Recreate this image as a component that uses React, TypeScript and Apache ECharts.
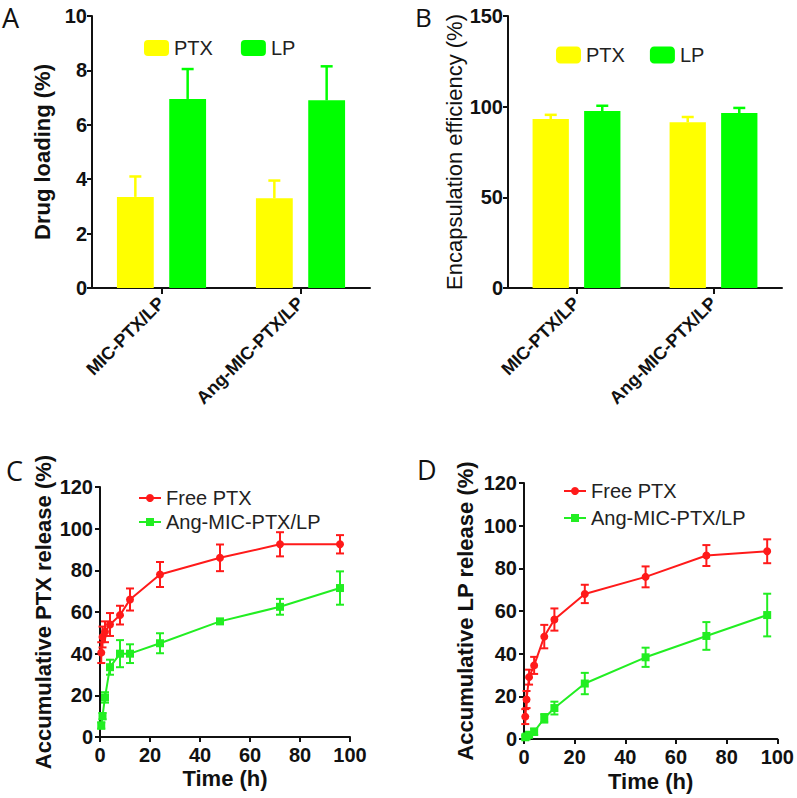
import React, { useEffect, useRef } from "react";
import * as echarts from "echarts";

const categories = ["MIC-PTX/LP", "Ang-MIC-PTX/LP"];
const loadingPTX = [3.35, 3.3];
const loadingPTXErr = [0.75, 0.65];
const loadingLP = [6.95, 6.9];
const loadingLPErr = [1.1, 1.25];
const eePTX = [93.2, 91.4];
const eePTXErr = [2.3, 2.9];
const eeLP = [97.6, 96.5];
const eeLPErr = [2.9, 2.8];

const timePoints = [0.5, 1, 2, 4, 8, 12, 24, 48, 72, 96];
const cFree = [40.5, 48, 50.5, 54, 58.5, 66, 78, 86, 92.5, 92.5];
const cFreeErr = [5, 5, 5, 5.5, 4.5, 5.3, 6, 6.4, 5.8, 4.4];
const cAng = [5.5, 10, 19, 33.5, 40, 40, 45, 55.5, 62.5, 71.5];
const cAngErr = [1.5, 1.5, 2.5, 3.6, 6.5, 4.5, 4.8, 1, 3.8, 8];
const dFree = [10.5, 18.5, 29, 34.5, 48, 56, 68, 76, 86, 88];
const dFreeErr = [3.5, 4, 3.5, 4, 5.5, 5.2, 4.3, 4.9, 4.9, 5.6];
const dAng = [0.8, 1.2, 2, 3.4, 9.7, 14.5, 26, 38.3, 48.3, 58.1];
const dAngErr = [0.8, 1, 1.2, 1.5, 2, 3, 5, 4.5, 6.5, 10];

const YELLOW = "#ffff00";
const GREEN = "#00ff00";
const RED = "#ff1a1a";
const LGREEN = "#22ee22";
const FONT = '"Liberation Sans", Arial, sans-serif';
const LETTER_FONT = '"Open Sans", sans-serif';

function barErr(sign: number, color: string) {
  return (params: any, api: any) => {
    const i = api.value(0);
    const m = api.value(1);
    const u = api.value(2);
    const band = api.size([1, 0])[0];
    const bw = band * 0.265;
    const off = (sign * (bw * 1.42)) / 2;
    const p0 = api.coord([i, m]);
    const p1 = api.coord([i, u]);
    const x = p0[0] + off;
    return {
      type: "group",
      children: [
        { type: "line", shape: { x1: x, y1: p0[1], x2: x, y2: p1[1] }, style: { stroke: color, lineWidth: 2.5 } },
        { type: "line", shape: { x1: x - 6, y1: p1[1], x2: x + 6, y2: p1[1] }, style: { stroke: color, lineWidth: 2.5 } },
      ],
    };
  };
}

function lineErr(color: string) {
  return (params: any, api: any) => {
    const x = api.value(0);
    const lo = api.value(1);
    const hi = api.value(2);
    const p0 = api.coord([x, lo]);
    const p1 = api.coord([x, hi]);
    return {
      type: "group",
      children: [
        { type: "line", shape: { x1: p0[0], y1: p0[1], x2: p1[0], y2: p1[1] }, style: { stroke: color, lineWidth: 2 } },
        { type: "line", shape: { x1: p0[0] - 4, y1: p0[1], x2: p0[0] + 4, y2: p0[1] }, style: { stroke: color, lineWidth: 2 } },
        { type: "line", shape: { x1: p1[0] - 4, y1: p1[1], x2: p1[0] + 4, y2: p1[1] }, style: { stroke: color, lineWidth: 2 } },
      ],
    };
  };
}

const axisLine = { show: true, lineStyle: { color: "#111", width: 2 } };
const axisTick = { show: true, length: 5, lineStyle: { color: "#111", width: 2 } };

export default function App() {
  const ref = useRef<HTMLDivElement>(null);
  useEffect(() => {
    if (!ref.current) return;
    const chart = echarts.init(ref.current, null, { renderer: "svg" });
    const barCatAxis = (gridIndex: number) => ({
      type: "category",
      gridIndex,
      data: categories,
      axisLine,
      axisTick: { ...axisTick, alignWithLabel: true, length: 6 },
      axisLabel: { rotate: 45, fontSize: 18, fontWeight: "bold", color: "#111", fontFamily: FONT, margin: 12 },
    });
    const timeAxis = (gridIndex: number) => ({
      type: "value",
      gridIndex,
      min: 0,
      max: 100,
      interval: 20,
      name: "Time (h)",
      nameLocation: "middle",
      nameGap: 30,
      nameTextStyle: { fontSize: 22, fontWeight: "bold", color: "#111", fontFamily: FONT },
      axisLine,
      axisTick,
      splitLine: { show: false },
      axisLabel: { fontSize: 20, fontWeight: "bold", color: "#111", fontFamily: FONT, margin: 8 },
    });
    const option: any = {
      animation: false,
      backgroundColor: "#fff",
      grid: [
        { left: 92, top: 16, width: 278, height: 272 },
        { left: 508, top: 16, width: 274, height: 272 },
        { left: 100, top: 487, width: 250, height: 250 },
        { left: 524, top: 483, width: 255, height: 256 },
      ],
      legend: [
        {
          data: ["PTX", "LP"], left: 139, top: 33, itemWidth: 25, itemHeight: 16, itemGap: 28,
          textStyle: { fontSize: 20, color: "#222", fontFamily: FONT }, selectedMode: false,
        },
        {
          data: ["PTX", "LP"], left: 551, top: 40, itemWidth: 25, itemHeight: 17, itemGap: 25,
          textStyle: { fontSize: 20, color: "#222", fontFamily: FONT }, selectedMode: false,
        },
        {
          data: ["Free PTX", "Ang-MIC-PTX/LP"], left: 133, top: 483, orient: "vertical", itemWidth: 22, itemHeight: 10, itemGap: 4,
          textStyle: { fontSize: 20, color: "#222", fontFamily: FONT }, selectedMode: false,
        },
        {
          data: ["Free PTX", "Ang-MIC-PTX/LP"], left: 558, top: 476, orient: "vertical", itemWidth: 22, itemHeight: 10, itemGap: 7,
          textStyle: { fontSize: 20, color: "#222", fontFamily: FONT }, selectedMode: false,
        },
      ],
      xAxis: [barCatAxis(0), barCatAxis(1), timeAxis(2), { ...timeAxis(3), nameGap: 31 }],
      yAxis: [
        {
          type: "value", gridIndex: 0, min: 0, max: 10, interval: 2,
          name: "Drug loading (%)", nameLocation: "middle", nameGap: 39,
          nameTextStyle: { fontSize: 22, fontWeight: "bold", color: "#111", fontFamily: FONT },
          axisLine, axisTick, splitLine: { show: false },
          axisLabel: { fontSize: 20, fontWeight: "bold", color: "#111", fontFamily: FONT, margin: 5 },
        },
        {
          type: "value", gridIndex: 1, min: 0, max: 150, interval: 50,
          name: "Encapsulation efficiency (%)", nameLocation: "middle", nameGap: 42,
          nameTextStyle: { fontSize: 22, color: "#111", fontFamily: FONT },
          axisLine, axisTick, splitLine: { show: false },
          axisLabel: { fontSize: 20, fontWeight: "bold", color: "#111", fontFamily: FONT, margin: 5 },
        },
        {
          type: "value", gridIndex: 2, min: 0, max: 120, interval: 20,
          name: "Accumulative PTX release (%)", nameLocation: "middle", nameGap: 46,
          nameTextStyle: { fontSize: 22, fontWeight: "bold", color: "#111", fontFamily: FONT },
          axisLine, axisTick, splitLine: { show: false },
          axisLabel: { fontSize: 20, fontWeight: "bold", color: "#111", fontFamily: FONT, margin: 7 },
        },
        {
          type: "value", gridIndex: 3, min: 0, max: 120, interval: 20,
          name: "Accumulative LP release (%)", nameLocation: "middle", nameGap: 48,
          nameTextStyle: { fontSize: 22, fontWeight: "bold", color: "#111", fontFamily: FONT },
          axisLine, axisTick, splitLine: { show: false },
          axisLabel: { fontSize: 20, fontWeight: "bold", color: "#111", fontFamily: FONT, margin: 7 },
        },
      ],
      graphic: [
        { type: "text", left: 2, top: 4, style: { text: "A", fontSize: 27, fontFamily: LETTER_FONT, fill: "#111" } },
        { type: "text", left: 415, top: 4, style: { text: "B", fontSize: 26, fontFamily: LETTER_FONT, fill: "#111" } },
        { type: "text", left: 6, top: 457, style: { text: "C", fontSize: 27, fontFamily: LETTER_FONT, fill: "#111" } },
        { type: "text", left: 417, top: 456, style: { text: "D", fontSize: 27, fontFamily: LETTER_FONT, fill: "#111" } },
      ],
      series: [
        { name: "PTX", type: "bar", xAxisIndex: 0, yAxisIndex: 0, data: loadingPTX, barWidth: "26.5%", barGap: "42%", itemStyle: { color: YELLOW } },
        { name: "LP", type: "bar", xAxisIndex: 0, yAxisIndex: 0, data: loadingLP, barWidth: "26.5%", barGap: "42%", itemStyle: { color: GREEN } },
        {
          name: "PTX SD A", type: "custom", xAxisIndex: 0, yAxisIndex: 0, z: 3,
          renderItem: barErr(-1, YELLOW), data: loadingPTX.map((v, i) => [i, v, v + loadingPTXErr[i]]),
        },
        {
          name: "LP SD A", type: "custom", xAxisIndex: 0, yAxisIndex: 0, z: 3,
          renderItem: barErr(1, GREEN), data: loadingLP.map((v, i) => [i, v, v + loadingLPErr[i]]),
        },
        { name: "PTX", type: "bar", xAxisIndex: 1, yAxisIndex: 1, data: eePTX, barWidth: "26.5%", barGap: "42%", itemStyle: { color: YELLOW } },
        { name: "LP", type: "bar", xAxisIndex: 1, yAxisIndex: 1, data: eeLP, barWidth: "26.5%", barGap: "42%", itemStyle: { color: GREEN } },
        {
          name: "PTX SD B", type: "custom", xAxisIndex: 1, yAxisIndex: 1, z: 3,
          renderItem: barErr(-1, YELLOW), data: eePTX.map((v, i) => [i, v, v + eePTXErr[i]]),
        },
        {
          name: "LP SD B", type: "custom", xAxisIndex: 1, yAxisIndex: 1, z: 3,
          renderItem: barErr(1, GREEN), data: eeLP.map((v, i) => [i, v, v + eeLPErr[i]]),
        },
        {
          name: "Free PTX", type: "line", xAxisIndex: 2, yAxisIndex: 2, data: timePoints.map((t, i) => [t, cFree[i]]),
          symbol: "circle", symbolSize: 8, itemStyle: { color: RED }, lineStyle: { color: RED, width: 2 },
        },
        {
          name: "Ang-MIC-PTX/LP", type: "line", xAxisIndex: 2, yAxisIndex: 2, data: timePoints.map((t, i) => [t, cAng[i]]),
          symbol: "rect", symbolSize: 8, itemStyle: { color: LGREEN }, lineStyle: { color: LGREEN, width: 2 },
        },
        {
          name: "Free PTX SD C", type: "custom", xAxisIndex: 2, yAxisIndex: 2, z: 3, renderItem: lineErr(RED),
          data: timePoints.map((t, i) => [t, cFree[i] - cFreeErr[i], cFree[i] + cFreeErr[i]]),
        },
        {
          name: "Ang SD C", type: "custom", xAxisIndex: 2, yAxisIndex: 2, z: 3, renderItem: lineErr(LGREEN),
          data: timePoints.map((t, i) => [t, Math.max(0, cAng[i] - cAngErr[i]), cAng[i] + cAngErr[i]]),
        },
        {
          name: "Free PTX", type: "line", xAxisIndex: 3, yAxisIndex: 3, data: timePoints.map((t, i) => [t, dFree[i]]),
          symbol: "circle", symbolSize: 8, itemStyle: { color: RED }, lineStyle: { color: RED, width: 2 },
        },
        {
          name: "Ang-MIC-PTX/LP", type: "line", xAxisIndex: 3, yAxisIndex: 3, data: timePoints.map((t, i) => [t, dAng[i]]),
          symbol: "rect", symbolSize: 8, itemStyle: { color: LGREEN }, lineStyle: { color: LGREEN, width: 2 },
        },
        {
          name: "Free PTX SD D", type: "custom", xAxisIndex: 3, yAxisIndex: 3, z: 3, renderItem: lineErr(RED),
          data: timePoints.map((t, i) => [t, dFree[i] - dFreeErr[i], dFree[i] + dFreeErr[i]]),
        },
        {
          name: "Ang SD D", type: "custom", xAxisIndex: 3, yAxisIndex: 3, z: 3, renderItem: lineErr(LGREEN),
          data: timePoints.map((t, i) => [t, Math.max(0, dAng[i] - dAngErr[i]), dAng[i] + dAngErr[i]]),
        },
      ],
    };
    chart.setOption(option);
    return () => chart.dispose();
  }, []);
  return (
    <div
      ref={ref}
      style={{ position: "fixed", left: 0, top: 0, width: 797, height: 798, background: "#fff" }}
    />
  );
}
